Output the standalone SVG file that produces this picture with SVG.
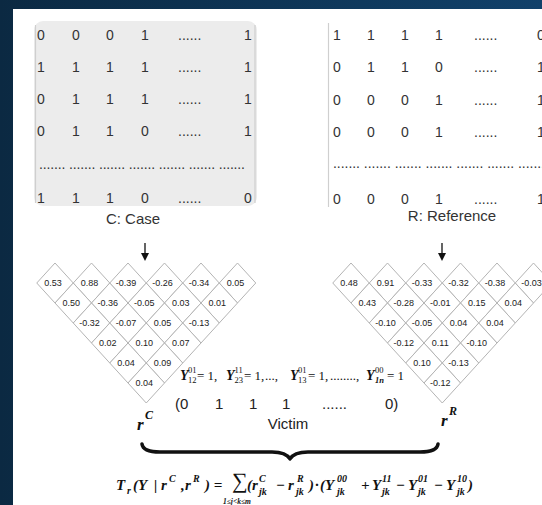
<svg xmlns="http://www.w3.org/2000/svg" xmlns:xlink="http://www.w3.org/1999/xlink" width="542" height="505" viewBox="0 0 542 505">
<defs>
<linearGradient id="bg" x1="0" y1="0" x2="1" y2="0">
<stop offset="0" stop-color="#0b2942"/>
<stop offset="1" stop-color="#11416a"/>
</linearGradient>
<path id="dm" d="M-18.25,0 L0,-20 L18.25,0 L0,20 Z" fill="#fff" stroke="#b4b4b4" stroke-width="1"/>
<path id="ah" d="M-4,0 L4,0 L0,8 Z" fill="#111"/>
</defs>
<style>
.mx{font-family:"Liberation Sans",Arial,sans-serif;font-size:14px;fill:#333}
.lb{font-family:"Liberation Sans",Arial,sans-serif;font-size:15px;fill:#333;text-anchor:middle}
.dv{font-family:"Liberation Sans",Arial,sans-serif;font-size:9px;fill:#222;text-anchor:middle}
.br{stroke:#cfcfcf;stroke-width:1.2;fill:none}
.m{font-family:"Liberation Serif","Times New Roman",serif;font-style:italic;font-weight:bold;fill:#111}
.up{font-family:"Liberation Serif","Times New Roman",serif;fill:#111}
.sn{font-family:"Liberation Sans",Arial,sans-serif;font-size:15px;fill:#222}
</style>
<rect x="0" y="0" width="542" height="505" fill="url(#bg)"/>
<rect x="13" y="9" width="529" height="496" fill="#fff"/>

<g id="matrix-C">
<rect x="34" y="21" width="223" height="185" rx="9" fill="#ececec"/>
<line class="br" x1="35.5" y1="25" x2="35.5" y2="203"/>
<line class="br" x1="255" y1="25" x2="255" y2="203"/>
<text class="mx" y="40"><tspan x="37">0</tspan><tspan x="72">0</tspan><tspan x="106">0</tspan><tspan x="141">1</tspan><tspan x="178">......</tspan><tspan x="244">1</tspan></text>
<text class="mx" y="72"><tspan x="37">1</tspan><tspan x="72">1</tspan><tspan x="106">1</tspan><tspan x="141">1</tspan><tspan x="178">......</tspan><tspan x="244">1</tspan></text>
<text class="mx" y="104"><tspan x="37">0</tspan><tspan x="72">1</tspan><tspan x="106">1</tspan><tspan x="141">1</tspan><tspan x="178">......</tspan><tspan x="244">1</tspan></text>
<text class="mx" y="136"><tspan x="37">0</tspan><tspan x="72">1</tspan><tspan x="106">1</tspan><tspan x="141">0</tspan><tspan x="178">......</tspan><tspan x="244">1</tspan></text>
<text class="mx" x="39" y="169" textLength="206" lengthAdjust="spacing">....... ....... ....... ....... ....... ....... .......</text>
<text class="mx" y="203"><tspan x="37">1</tspan><tspan x="72">1</tspan><tspan x="106">1</tspan><tspan x="141">0</tspan><tspan x="178">......</tspan><tspan x="244">0</tspan></text>
<text class="lb" x="133" y="224">C: Case</text>
</g>

<g id="matrix-R">
<line class="br" x1="328.5" y1="23" x2="328.5" y2="207"/>
<text class="mx" y="40"><tspan x="333">1</tspan><tspan x="367">1</tspan><tspan x="401">1</tspan><tspan x="435">1</tspan><tspan x="474">......</tspan><tspan x="537">0</tspan></text>
<text class="mx" y="72"><tspan x="333">0</tspan><tspan x="367">1</tspan><tspan x="401">1</tspan><tspan x="435">0</tspan><tspan x="474">......</tspan><tspan x="537">1</tspan></text>
<text class="mx" y="105"><tspan x="333">0</tspan><tspan x="367">0</tspan><tspan x="401">0</tspan><tspan x="435">1</tspan><tspan x="474">......</tspan><tspan x="537">1</tspan></text>
<text class="mx" y="137"><tspan x="333">0</tspan><tspan x="367">0</tspan><tspan x="401">0</tspan><tspan x="435">1</tspan><tspan x="474">......</tspan><tspan x="537">1</tspan></text>
<text class="mx" x="333" y="168" textLength="212" lengthAdjust="spacing">....... ....... ....... ....... ....... ....... .......</text>
<text class="mx" y="204"><tspan x="333">0</tspan><tspan x="367">0</tspan><tspan x="401">0</tspan><tspan x="435">1</tspan><tspan x="474">......</tspan><tspan x="537">1</tspan></text>
<text class="lb" x="452" y="221">R: Reference</text>
</g>

<g id="connectors">
<line x1="145" y1="243" x2="145" y2="254" stroke="#111" stroke-width="1.3"/>
<use href="#ah" x="145" y="253"/>
<line x1="442" y1="243" x2="442" y2="254" stroke="#111" stroke-width="1.3"/>
<use href="#ah" x="442" y="253"/>
<path d="M142,444 Q143,452 160,452 L272,452 Q286,452 290,459 Q294,452 308,452 L420,452 Q437,452 438,444" fill="none" stroke="#111" stroke-width="3.5" stroke-linecap="round" stroke-linejoin="round"/>
</g>

<g id="triangle-C">
<use href="#dm" x="55" y="283"/><use href="#dm" x="91.5" y="283"/><use href="#dm" x="128" y="283"/><use href="#dm" x="164.5" y="283"/><use href="#dm" x="201" y="283"/><use href="#dm" x="237.5" y="283"/>
<use href="#dm" x="73.25" y="303"/><use href="#dm" x="109.75" y="303"/><use href="#dm" x="146.25" y="303"/><use href="#dm" x="182.75" y="303"/><use href="#dm" x="219.25" y="303"/>
<use href="#dm" x="91.5" y="323"/><use href="#dm" x="128" y="323"/><use href="#dm" x="164.5" y="323"/><use href="#dm" x="201" y="323"/>
<use href="#dm" x="109.75" y="343"/><use href="#dm" x="146.25" y="343"/><use href="#dm" x="182.75" y="343"/>
<use href="#dm" x="128" y="363"/><use href="#dm" x="164.5" y="363"/>
<use href="#dm" x="146.25" y="383"/>
<text class="dv" y="286"><tspan x="53">0.53</tspan><tspan x="89.5">0.88</tspan><tspan x="126">-0.39</tspan><tspan x="162.5">-0.26</tspan><tspan x="199">-0.34</tspan><tspan x="235.5">0.05</tspan></text>
<text class="dv" y="306"><tspan x="71.25">0.50</tspan><tspan x="107.75">-0.36</tspan><tspan x="144.25">-0.05</tspan><tspan x="180.75">0.03</tspan><tspan x="217.25">0.01</tspan></text>
<text class="dv" y="326"><tspan x="89.5">-0.32</tspan><tspan x="126">-0.07</tspan><tspan x="162.5">0.05</tspan><tspan x="199">-0.13</tspan></text>
<text class="dv" y="346"><tspan x="107.75">0.02</tspan><tspan x="144.25">0.10</tspan><tspan x="180.75">0.07</tspan></text>
<text class="dv" y="366"><tspan x="126">0.04</tspan><tspan x="162.5">0.09</tspan></text>
<text class="dv" y="386"><tspan x="144.25">0.04</tspan></text>
<text class="m" x="137" y="430" font-size="17">r</text>
<text class="m" x="145" y="419" font-size="12">C</text>
</g>

<g id="triangle-R">
<use href="#dm" x="351" y="283"/><use href="#dm" x="387.5" y="283"/><use href="#dm" x="424" y="283"/><use href="#dm" x="460.5" y="283"/><use href="#dm" x="497" y="283"/><use href="#dm" x="533.5" y="283"/>
<use href="#dm" x="369.25" y="303"/><use href="#dm" x="405.75" y="303"/><use href="#dm" x="442.25" y="303"/><use href="#dm" x="478.75" y="303"/><use href="#dm" x="515.25" y="303"/>
<use href="#dm" x="387.5" y="323"/><use href="#dm" x="424" y="323"/><use href="#dm" x="460.5" y="323"/><use href="#dm" x="497" y="323"/>
<use href="#dm" x="405.75" y="343"/><use href="#dm" x="442.25" y="343"/><use href="#dm" x="478.75" y="343"/>
<use href="#dm" x="424" y="363"/><use href="#dm" x="460.5" y="363"/>
<use href="#dm" x="442.25" y="383"/>
<text class="dv" y="286"><tspan x="349">0.48</tspan><tspan x="385.5">0.91</tspan><tspan x="422">-0.33</tspan><tspan x="458.5">-0.32</tspan><tspan x="495">-0.38</tspan><tspan x="531.5">-0.03</tspan></text>
<text class="dv" y="306"><tspan x="367.25">0.43</tspan><tspan x="403.75">-0.28</tspan><tspan x="440.25">-0.01</tspan><tspan x="476.75">0.15</tspan><tspan x="513.25">0.04</tspan></text>
<text class="dv" y="326"><tspan x="385.5">-0.10</tspan><tspan x="422">-0.05</tspan><tspan x="458.5">0.04</tspan><tspan x="495">0.04</tspan></text>
<text class="dv" y="346"><tspan x="403.75">-0.12</tspan><tspan x="440.25">0.11</tspan><tspan x="476.75">-0.10</tspan></text>
<text class="dv" y="366"><tspan x="422">0.10</tspan><tspan x="458.5">-0.13</tspan></text>
<text class="dv" y="386"><tspan x="440.25">-0.12</tspan></text>
<text class="m" x="441" y="426" font-size="17">r</text>
<text class="m" x="449" y="415" font-size="12">R</text>
</g>

<g id="victim">
<text class="m" font-size="14" y="380"><tspan x="180">Y</tspan><tspan x="226">Y</tspan><tspan x="290">Y</tspan><tspan x="366">Y</tspan></text>
<text class="up" font-size="8.5" y="373"><tspan x="188">01</tspan><tspan x="234.5">11</tspan><tspan x="298">01</tspan><tspan x="375">00</tspan></text>
<text class="up" font-size="8.5" y="383"><tspan x="188">12</tspan><tspan x="234.5">23</tspan><tspan x="298">13</tspan><tspan x="375" font-weight="bold" font-style="italic">1n</tspan></text>
<text class="up" font-size="13" y="380"><tspan x="197">= 1,</tspan><tspan x="244">= 1,</tspan><tspan x="265">...,</tspan><tspan x="308">= 1,</tspan><tspan x="330">........,</tspan><tspan x="387">= 1</tspan></text>
<text class="sn" y="409"><tspan x="175">(0</tspan><tspan x="215">1</tspan><tspan x="249">1</tspan><tspan x="282">1</tspan><tspan x="322">......</tspan><tspan x="385">0)</tspan></text>
<text class="sn" x="288" y="429" text-anchor="middle">Victim</text>
</g>

<g id="formula">
<text class="m" font-size="15" y="490"><tspan x="116">T</tspan><tspan x="133">(Y</tspan><tspan x="154">|</tspan><tspan x="161">r</tspan><tspan x="181">,</tspan><tspan x="185">r</tspan><tspan x="205">) =</tspan></text>
<text class="m" font-size="10" y="494" x="127">r</text>
<text class="m" font-size="10" y="482"><tspan x="169">C</tspan><tspan x="193">R</tspan></text>
<text class="up" font-size="22" x="232" y="488">∑</text>
<text class="m" font-size="7.5" x="223" y="504">1≤j&lt;k≤m</text>
<text class="m" font-size="15" y="490"><tspan x="247">(r</tspan><tspan x="276">−</tspan><tspan x="288">r</tspan><tspan x="309">)</tspan><tspan x="315">·</tspan><tspan x="320">(Y</tspan><tspan x="361">+</tspan><tspan x="372">Y</tspan><tspan x="396">−</tspan><tspan x="408">Y</tspan><tspan x="434">−</tspan><tspan x="446">Y</tspan><tspan x="468">)</tspan></text>
<text class="m" font-size="10" y="482"><tspan x="259">C</tspan><tspan x="297">R</tspan><tspan x="337">00</tspan><tspan x="382">11</tspan><tspan x="418">01</tspan><tspan x="457">10</tspan></text>
<text class="m" font-size="10" y="495"><tspan x="259">jk</tspan><tspan x="296">jk</tspan><tspan x="337">jk</tspan><tspan x="382">jk</tspan><tspan x="418">jk</tspan><tspan x="457">jk</tspan></text>
</g>
</svg>
